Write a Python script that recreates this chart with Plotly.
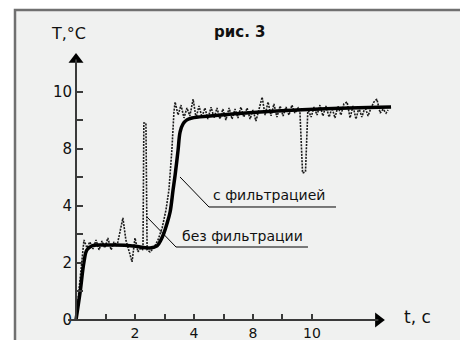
import plotly.graph_objects as go

# filtered (smooth) curve, axis units (tick index)
t_filt = [0, 0.14, 0.27, 0.37, 0.54, 0.81, 1.32, 1.93, 2.51, 2.75, 2.88, 2.98, 3.08, 3.19, 3.29,
          3.36, 3.46, 3.53, 3.63, 3.76, 3.93, 4.54, 6.24, 8.27, 10.68]
T_filt = [0, 0.98, 2.04, 2.46, 2.60, 2.63, 2.63, 2.60, 2.53, 2.60, 2.81, 3.05, 3.37, 3.79, 4.56,
          5.09, 5.96, 6.60, 6.88, 7.02, 7.09, 7.16, 7.30, 7.40, 7.47]

# unfiltered (raw) signal
t_raw = [0, 0.10, 0.20, 0.27, 0.37, 0.47, 0.58, 0.68, 0.78, 0.88, 0.98, 1.08, 1.19, 1.29, 1.39,
         1.49, 1.59, 1.69, 1.80, 1.90, 2.00, 2.10, 2.20, 2.27, 2.30, 2.37, 2.41, 2.51, 2.64, 2.78,
         2.92, 3.05, 3.15, 3.25, 3.32, 3.36, 3.46, 3.56, 3.66, 3.76, 3.86, 3.97, 4.07, 4.17, 4.27,
         4.37, 4.47, 4.58, 4.68, 4.78, 4.88, 4.98, 5.08, 5.19, 5.29, 5.39, 5.49, 5.59, 5.69, 5.80,
         5.90, 6.00, 6.10, 6.20, 6.31, 6.41, 6.51, 6.61, 6.71, 6.81, 6.92, 7.02, 7.12, 7.22, 7.32,
         7.42, 7.53, 7.59, 7.68, 7.78, 7.86, 7.97, 8.07, 8.17, 8.27, 8.37, 8.47, 8.58, 8.68, 8.78,
         8.88, 8.98, 9.08, 9.19, 9.29, 9.39, 9.49, 9.59, 9.69, 9.80, 9.90, 10.00, 10.10, 10.20,
         10.31, 10.41, 10.51, 10.58]
T_raw = [0, 1.05, 2.28, 2.81, 2.53, 2.74, 2.49, 2.81, 2.46, 2.77, 2.53, 2.88, 2.46, 2.74, 2.60,
         3.09, 3.58, 2.81, 2.39, 2.04, 2.88, 2.39, 2.53, 2.46, 6.91, 6.91, 2.46, 2.39, 2.53, 2.81,
         3.23, 3.86, 4.56, 5.96, 7.30, 7.65, 7.19, 7.54, 7.09, 7.44, 7.16, 7.75, 7.09, 7.51, 7.12,
         7.44, 7.05, 7.47, 7.09, 7.44, 7.05, 7.40, 7.02, 7.44, 7.05, 7.40, 7.09, 7.47, 7.12, 7.44,
         7.05, 7.37, 6.98, 7.40, 7.82, 7.19, 7.65, 7.16, 7.58, 7.12, 7.51, 7.16, 7.47, 7.19, 7.54,
         7.26, 7.44, 7.33, 5.16, 5.20, 7.40, 7.12, 7.47, 7.19, 7.54, 7.16, 7.51, 7.12, 7.44, 7.09,
         7.51, 7.19, 7.58, 7.65, 7.09, 7.51, 7.05, 7.44, 7.12, 7.47, 7.16, 7.44, 7.65, 7.75,
         7.26, 7.40, 7.26, 7.37]

x_tickvals = [1, 2, 3, 4, 5, 6, 7, 8]
x_ticktext = ["", "2", "", "4", "", "8", "", "10"]
y_tickvals = [0, 1, 2, 3, 4, 5, 6, 7, 8]
y_ticktext = ["0", "", "2", "", "4", "", "8", "", "10"]

FONT = "DejaVu Sans"
AX = "#3a3a3a"

fig = go.Figure()
fig.add_trace(go.Scatter(x=t_raw, y=T_raw, mode="lines",
                         line=dict(color="#1a1a1a", width=1.6, dash="2px,1.2px"),
                         hoverinfo="skip"))
fig.add_trace(go.Scatter(x=t_filt, y=T_filt, mode="lines", line_shape="spline",
                         line=dict(color="black", width=3.5), hoverinfo="skip"))
# arrow heads of the axes
fig.add_trace(go.Scatter(x=[10.25], y=[0], mode="markers",
                         marker=dict(symbol="triangle-right", size=13, color="black"),
                         hoverinfo="skip"))
fig.add_trace(go.Scatter(x=[0], y=[9.14], mode="markers",
                         marker=dict(symbol="triangle-up", size=13, color="black"),
                         hoverinfo="skip"))

shapes = [
    dict(type="rect", xref="paper", yref="paper", x0=0, x1=1, y0=-0.05, y1=1,
         line=dict(color="#707070", width=2.5), layer="above"),
    dict(type="line", x0=-0.27, x1=10.25, y0=0, y1=0, line=dict(color=AX, width=2)),
    dict(type="line", x0=0, x1=0, y0=0, y1=9.14, line=dict(color=AX, width=2)),
    # leaders and underlines
    dict(type="line", x0=3.525, y0=5.018, x1=4.508, y1=3.965, line=dict(color="black", width=1)),
    dict(type="line", x0=4.508, y0=3.965, x1=8.814, y1=3.965, line=dict(color="black", width=1)),
    dict(type="line", x0=2.407, y0=3.614, x1=3.390, y1=2.561, line=dict(color="black", width=1)),
    dict(type="line", x0=3.390, y0=2.561, x1=7.864, y1=2.561, line=dict(color="black", width=1)),
]

annotations = [
    dict(x=4.56, y=4.40, text="с фильтрацией", showarrow=False, xanchor="left", yanchor="middle",
         font=dict(family=FONT, size=14, color="#111")),
    dict(x=3.52, y=2.95, text="без фильтрации", showarrow=False, xanchor="left", yanchor="middle",
         font=dict(family=FONT, size=14, color="#111")),
    dict(xref="paper", yref="paper", x=(68 - 15) / 449, y=(340 - 33) / 330, text="T,°C",
         showarrow=False, xanchor="center", yanchor="middle",
         font=dict(family=FONT, size=16, color="#111")),
    dict(xref="paper", yref="paper", x=(240 - 15) / 449, y=(340 - 32) / 330, text="<b>рис. 3</b>",
         showarrow=False, xanchor="center", yanchor="middle",
         font=dict(family=FONT, size=15, color="#111")),
    dict(xref="paper", yref="paper", x=(417 - 15) / 449, y=(340 - 317) / 330, text="t, c",
         showarrow=False, xanchor="center", yanchor="middle",
         font=dict(family=FONT, size=17, color="#111")),
]

fig.update_layout(
    width=468, height=340,
    margin=dict(l=7, r=12, t=2, b=8, autoexpand=False),
    paper_bgcolor="white", plot_bgcolor="#f0f1f0",
    showlegend=False,
    shapes=shapes, annotations=annotations,
    xaxis=dict(range=[-2.068, 13.153], anchor="free", position=20 / 330,
               tickmode="array", tickvals=x_tickvals, ticktext=x_ticktext,
               ticks="inside", ticklen=6, tickwidth=1.5, tickcolor=AX,
               showline=False, showgrid=False, zeroline=False, automargin=False,
               ticklabelstandoff=3,
               tickfont=dict(family=FONT, size=14, color="#111")),
    yaxis=dict(range=[-0.702, 10.877], anchor="free", position=(76 - 15) / 449,
               tickmode="array", tickvals=y_tickvals, ticktext=y_ticktext,
               ticks="inside", ticklen=6, tickwidth=1.5, tickcolor=AX,
               showline=False, showgrid=False, zeroline=False, ticklabelstandoff=4,
               automargin=False,
               tickfont=dict(family=FONT, size=15, color="#111")),
)

fig.write_html("out.html")
